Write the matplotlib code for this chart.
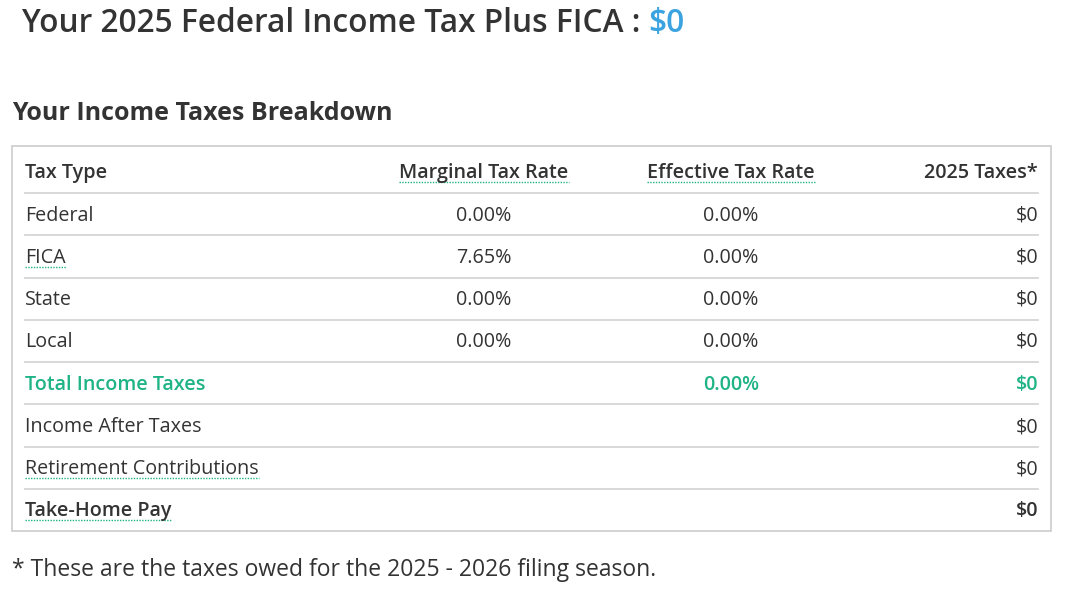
import matplotlib
matplotlib.use('Agg')
import matplotlib.pyplot as plt

# table data
tax_types = ['Federal', 'FICA', 'State', 'Local', 'Total Income Taxes',
             'Income After Taxes', 'Retirement Contributions', 'Take-Home Pay']
marginal_rates = ['0.00%', '7.65%', '0.00%', '0.00%', '', '', '', '']
effective_rates = ['0.00%', '0.00%', '0.00%', '0.00%', '0.00%', '', '', '']
taxes_2025 = ['$0', '$0', '$0', '$0', '$0', '$0', '$0', '$0']
headers = ['Tax Type', 'Marginal Tax Rate', 'Effective Tax Rate', '2025 Taxes*']
underlined = ['FICA', 'Retirement Contributions', 'Take-Home Pay']
total_tax = '$0'

DARK = '#333333'
GREEN = '#1fb386'
BLUE = '#3aa3e0'
LINE = '#d6d6d6'

plt.rcParams['font.family'] = ['Open Sans', 'DejaVu Sans']

W, H = 1066, 598
fig = plt.figure(figsize=(W / 100, H / 100), dpi=100)
ax = fig.add_axes([0, 0, 1, 1])
ax.set_xlim(0, W)
ax.set_ylim(H, 0)
ax.axis('off')


def extent(txt):
    fig.canvas.draw()
    return txt.get_window_extent(fig.canvas.get_renderer()).transformed(ax.transData.inverted())


# headline
t1 = ax.text(22, 24, 'Your 2025 Federal Income Tax Plus FICA : ', fontsize=22.8,
             fontweight='semibold', color=DARK, va='center', ha='left')
bb = extent(t1)
ax.text(bb.x1, 24, total_tax, fontsize=22.8, fontweight='semibold', color=BLUE,
        va='center', ha='left')

ax.text(12, 114, 'Your Income Taxes Breakdown', fontsize=18, fontweight='bold',
        color=DARK, va='center', ha='left')

# table frame
ax.add_patch(plt.Rectangle((12, 146), 1039, 385, fill=False, edgecolor='#cccccc', lw=1.2))

col_x = [25, 484, 731, 1038]
col_ha = ['left', 'center', 'center', 'right']
header_y = 173
row_y = [216, 258, 300, 342, 385, 427, 469, 511]
sep_y = [193, 235, 278, 320, 362, 404, 447, 489]

for y in sep_y:
    ax.plot([25, 1038], [y, y], color=LINE, lw=1.3)


def dotted_under(txt):
    b = extent(txt)
    yy = max(b.y0, b.y1) - 1
    ax.plot([b.x0, b.x1], [yy, yy], color=GREEN, lw=1.0, ls=(0, (1, 1)))


for i, h in enumerate(headers):
    t = ax.text(col_x[i], header_y, h, fontsize=14.2, fontweight='semibold', color=DARK,
                va='center', ha=col_ha[i])
    if i in (1, 2):
        dotted_under(t)

for j, y in enumerate(row_y):
    name = tax_types[j]
    color = GREEN if name == 'Total Income Taxes' else DARK
    weight = 'semibold' if name in ('Total Income Taxes', 'Take-Home Pay') else 'normal'
    vals = [name, marginal_rates[j], effective_rates[j], taxes_2025[j]]
    for i, v in enumerate(vals):
        if not v:
            continue
        t = ax.text(col_x[i], y, v, fontsize=14.2, fontweight=weight, color=color,
                    va='center', ha=col_ha[i])
        if i == 0 and name in underlined:
            dotted_under(t)

ax.text(12, 570, '* These are the taxes owed for the 2025 - 2026 filing season.',
        fontsize=16.5, color=DARK, va='center', ha='left')

fig.savefig('out.png', dpi=100)
